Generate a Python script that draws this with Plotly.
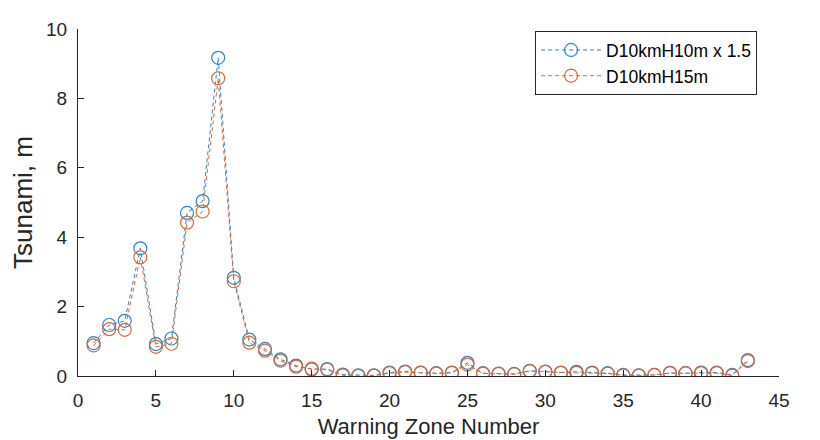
import plotly.graph_objects as go

zones = list(range(1, 44))
blue_vals = [0.95, 1.47, 1.59, 3.68, 0.92, 1.08, 4.70, 5.04, 9.17, 2.83,
             1.05, 0.78, 0.48, 0.30, 0.19, 0.20, 0.04, 0.02, 0.02, 0.10,
             0.13, 0.10, 0.08, 0.10, 0.38, 0.08, 0.07, 0.06, 0.15, 0.13,
             0.10, 0.12, 0.10, 0.08, 0.03, 0.02, 0.03, 0.09, 0.08, 0.10,
             0.10, 0.03, 0.46]
orange_vals = [0.88, 1.35, 1.33, 3.42, 0.84, 0.93, 4.42, 4.74, 8.58, 2.73,
               0.96, 0.73, 0.44, 0.27, 0.21, 0.18, 0.02, 0.00, 0.01, 0.08,
               0.11, 0.09, 0.07, 0.09, 0.33, 0.07, 0.06, 0.05, 0.14, 0.12,
               0.09, 0.09, 0.08, 0.07, 0.02, 0.01, 0.03, 0.08, 0.08, 0.08,
               0.08, 0.01, 0.43]
names = ["D10kmH10m x 1.5", "D10kmH15m"]
colors = ["#2F86C0", "#D46A3A"]
x_ticks = [0, 5, 10, 15, 20, 25, 30, 35, 40, 45]
y_ticks = [0, 2, 4, 6, 8, 10]

fig = go.Figure()
for vals, name, col in zip([blue_vals, orange_vals], names, colors):
    fig.add_trace(go.Scatter(
        x=zones, y=vals, name=name, mode="lines+markers",
        line=dict(color=col, width=1, dash="4px,3px"),
        marker=dict(symbol="circle-open", size=13, color=col, line=dict(width=1.2)),
    ))

font = "Liberation Sans, Arial, sans-serif"
fig.update_layout(
    width=820, height=440,
    margin=dict(l=70, r=49, t=11, b=72),
    paper_bgcolor="white", plot_bgcolor="white",
    font=dict(family=font, size=16, color="#262626"),
    showlegend=True,
    legend=dict(x=0.652, y=0.994, xanchor="left", yanchor="top",
                bordercolor="#262626", borderwidth=1, bgcolor="white",
                font=dict(size=17.5, color="#000000"),
                tracegroupgap=0, itemwidth=60),
    xaxis=dict(range=[0, 45], tickvals=x_ticks, ticks="inside", ticklen=6,
               tickcolor="#262626", showline=True, linecolor="#262626", linewidth=1,
               showgrid=False, zeroline=False, mirror=False,
               ticklabelstandoff=7,
               title=dict(text="Warning Zone Number", font=dict(size=22), standoff=8),
               tickfont=dict(size=19)),
    yaxis=dict(range=[0, 10], tickvals=y_ticks, ticks="inside", ticklen=6,
               tickcolor="#262626", showline=True, linecolor="#262626", linewidth=1,
               showgrid=False, zeroline=False, mirror=False,
               ticklabelstandoff=6,
               title=dict(text="Tsunami, m", font=dict(size=26), standoff=5),
               tickfont=dict(size=19)),
)
fig.write_html("out.html")
